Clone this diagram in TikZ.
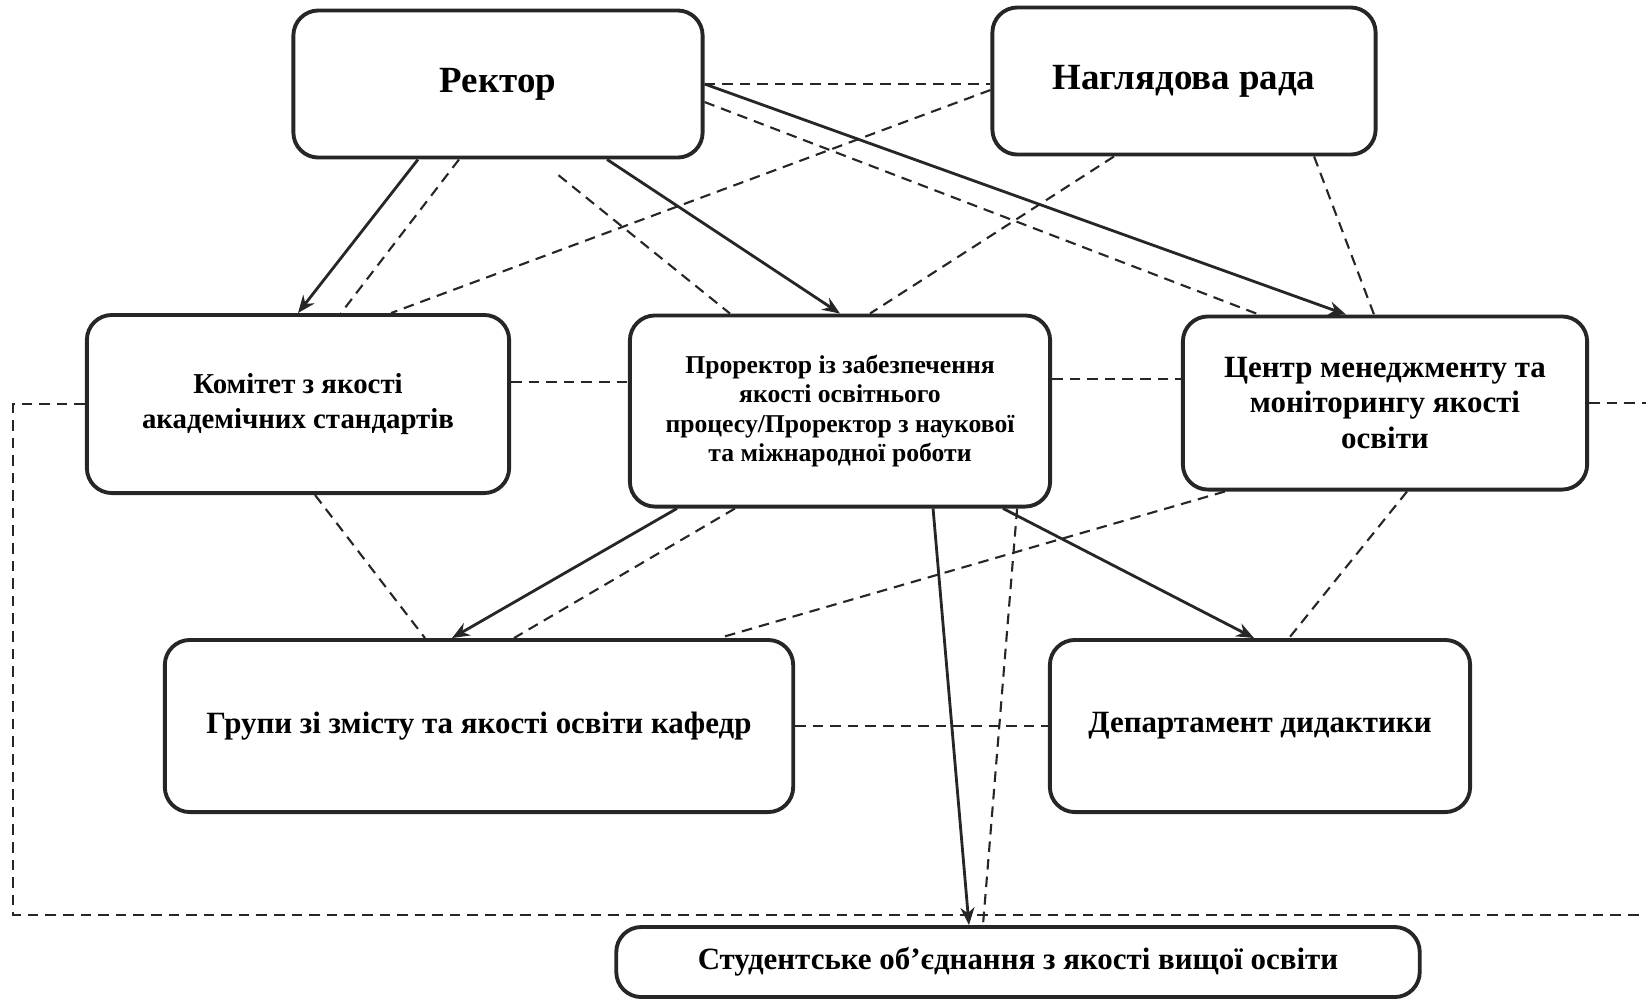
\documentclass[tikz,border=0pt]{standalone}
\usepackage{fontspec}
\setmainfont{Liberation Serif}
\usetikzlibrary{arrows.meta}

\begin{document}
\begin{tikzpicture}[x=0.01cm, y=-0.01cm,
    box/.style={draw=black!85, line width=1.1pt, rounded corners=0.25cm, align=center,
      inner sep=2pt, font=\bfseries\fontsize{8.8}{10}\selectfont},
    bigbox/.style={box, font=\bfseries\fontsize{10.5}{12}\selectfont},
    link/.style={draw=black!85, line width=0.8pt, -{Stealth[length=5pt,width=4pt]}},
    tie/.style={draw=black!85, line width=0.6pt, dash pattern=on 3pt off 2pt}]
  % page frame
  \useasboundingbox (0,0) rectangle (1646,999);

  % Boxes
  \node[bigbox, minimum width=4.09cm, minimum height=1.47cm] (rector) at (498,84) {Ректор};
  \node[bigbox, minimum width=3.83cm, minimum height=1.47cm] (nagl) at (1184,81) {Наглядова рада};
  \node[box, minimum width=4.22cm, minimum height=1.78cm, font=\bfseries\fontsize{8.2}{10}\selectfont]
    (komitet) at (298,404)
    {Комітет з якості\\академічних стандартів};
  \node[box, minimum width=4.20cm, minimum height=1.91cm, font=\bfseries\fontsize{7.3}{8.3}\selectfont]
    (prorektor) at (840,411)
    {Проректор із забезпечення\\якості освітнього\\процесу/Проректор з наукової\\та міжнародної роботи};
  \node[box, minimum width=4.04cm, minimum height=1.73cm] (tsentr) at (1385,403)
    {Центр менеджменту та\\моніторингу якості\\освіти};
  \node[box, minimum width=6.28cm, minimum height=1.72cm] (grupy) at (479,726)
    {Групи зі змісту та якості освіти кафедр};
  \node[box, minimum width=4.20cm, minimum height=1.72cm] (dept) at (1260,726)
    {Департамент дидактики};
  \node[box, minimum width=8.03cm, minimum height=0.70cm] (student) at (1018,962)
    {Студентське об’єднання з якості вищої освіти};

  % Outer dashed frame (runs off the right edge)
  \coordinate (frameSW) at (13,915);
  \coordinate (frameSE) at (1660,915);
  \draw[tie] (komitet.west) -- (komitet.west -| frameSW) -- (frameSW) -- (frameSE);
  \draw[tie] (tsentr.east) -- (tsentr.east -| frameSE);

  % Subordination (solid arrows)
  \draw[link] ([xshift=-0.8cm]rector.south) -- (komitet.north);
  \draw[link] ([xshift=1.09cm]rector.south) -- (prorektor.north);
  \draw[link] (rector.east) -- ([xshift=-0.39cm]tsentr.north);
  \draw[link] ([xshift=-1.63cm]prorektor.south) -- ([xshift=-0.27cm]grupy.north);
  \draw[link] ([xshift=1.63cm]prorektor.south) -- ([xshift=-0.06cm]dept.north);
  \draw[link] ([xshift=0.93cm]prorektor.south) -- ([xshift=-0.49cm]student.north);

  % Cooperation (dashed lines)
  \draw[tie] (rector.east) -- (rector.east -| nagl.west);
  \draw[tie] ([yshift=-0.18cm]rector.east) -- ([xshift=-1.26cm]tsentr.north);
  \draw[tie] ([yshift=-0.09cm]nagl.west) -- ([xshift=0.93cm]komitet.north);
  \draw[tie] ([xshift=-0.39cm]rector.south) -- ([xshift=0.43cm]komitet.north);
  \draw[tie, shorten <=0.25cm] ([xshift=0.41cm]rector.south) -- ([xshift=-1.1cm]prorektor.north);
  \draw[tie] ([xshift=-0.7cm]nagl.south) -- ([xshift=0.3cm]prorektor.north);
  \draw[tie] ([xshift=1.3cm]nagl.south) -- ([xshift=-0.11cm]tsentr.north);
  \draw[tie] ([yshift=0.22cm]komitet.east) -- ([yshift=0.22cm]komitet.east -| prorektor.west);
  \draw[tie] ([yshift=0.24cm]tsentr.west -| prorektor.east) -- ([yshift=0.24cm]tsentr.west);
  \draw[tie] ([xshift=0.17cm]komitet.south) -- ([xshift=-0.54cm]grupy.north);
  \draw[tie] ([xshift=-1.05cm]prorektor.south) -- ([xshift=0.35cm]grupy.north);
  \draw[tie] ([xshift=-1.6cm]tsentr.south) -- ([xshift=2.4cm]grupy.north);
  \draw[tie] ([xshift=0.22cm]tsentr.south) -- ([xshift=0.29cm]dept.north);
  \draw[tie] ([xshift=1.77cm]prorektor.south) -- ([xshift=-0.35cm]student.north);
  \draw[tie] (grupy.east) -- (dept.west);
\end{tikzpicture}
\end{document}
